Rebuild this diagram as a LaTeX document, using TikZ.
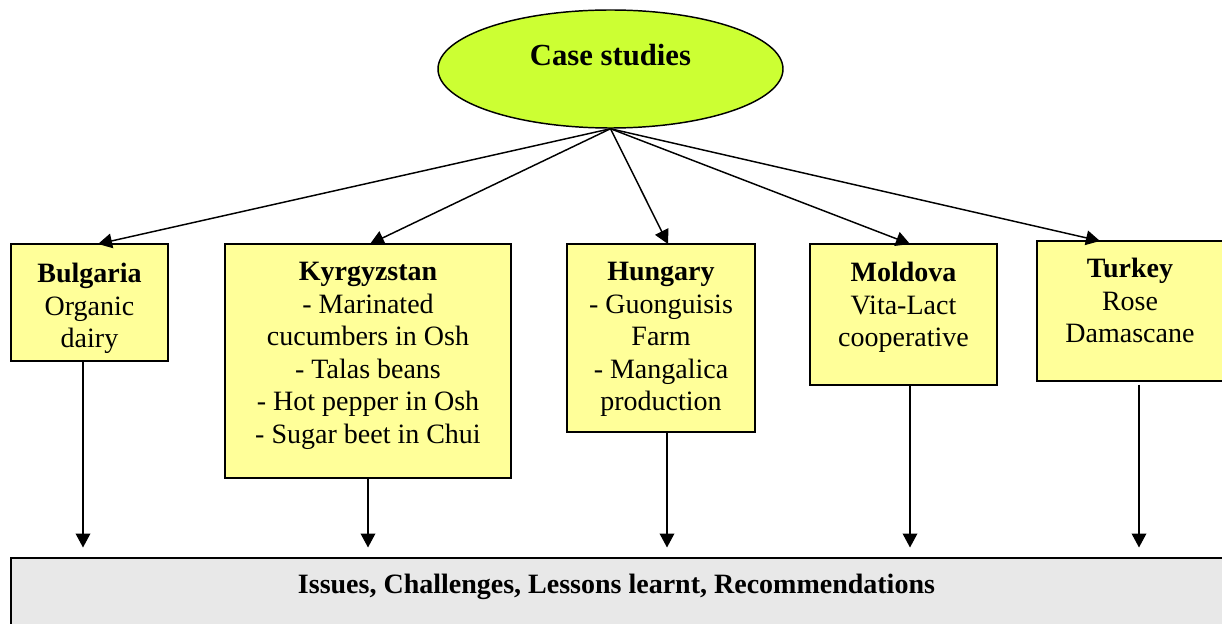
\documentclass[tikz,border=0pt]{standalone}
\usepackage{fontspec}
\setmainfont{Liberation Serif}
\usetikzlibrary{arrows.meta,shapes.geometric}
\definecolor{boxyellow}{HTML}{FFFF99}
\definecolor{ellgreen}{HTML}{CCFF33}
\definecolor{botgray}{HTML}{E8E8E8}
\begin{document}
\begin{tikzpicture}[x=0.75pt,y=-0.75pt,
  box/.style={draw=black, line width=1.5pt, fill=boxyellow, rectangle, inner sep=0pt},
  txt/.style={font=\fontsize{21}{24.4}\selectfont, align=center, inner sep=0pt, anchor=north},
  arr/.style={line width=1.1pt, -{Triangle[length=10.5pt,width=11pt]}}]
\useasboundingbox (0,0) rectangle (1222,624);
% top ellipse
\node[draw=black, line width=1.1pt, fill=ellgreen, ellipse, inner sep=0pt,
      minimum width=258.75pt, minimum height=88.5pt] (cs) at (610.5,69) {};
\node[txt, font=\fontsize{23}{27}\selectfont\bfseries] (cst) at (610.5,43.5) {Case studies};
% boxes
\node[box, minimum width=117.75pt, minimum height=87.75pt] (bul) at (89.5,302.5) {};
\node[txt] (bult) at (89.5,263) {\textbf{Bulgaria}\\Organic\\dairy};
\node[box, minimum width=214.5pt, minimum height=175.5pt] (kyr) at (368,361) {};
\node[txt] (kyrt) at (368,262) {\textbf{Kyrgyzstan}\\- Marinated\\cucumbers in Osh\\- Talas beans\\- Hot pepper in Osh\\- Sugar beet in Chui};
\node[box, minimum width=141pt, minimum height=141pt] (hun) at (661,338) {};
\node[txt] (hunt) at (661,262) {\textbf{Hungary}\\- Guonguisis\\Farm\\- Mangalica\\production};
\node[box, minimum width=140.25pt, minimum height=105.75pt] (mol) at (903.5,314.5) {};
\node[txt] (molt) at (903.5,262) {\textbf{Moldova}\\Vita-Lact\\cooperative};
\node[box, minimum width=140.25pt, minimum height=105pt] (tur) at (1130.5,311) {};
\node[txt] (turt) at (1130,258) {\textbf{Turkey}\\Rose\\Damascane};
% bottom box
\node[box, fill=botgray, minimum width=915.75pt, minimum height=61.5pt] (bot) at (621.5,599) {};
\node[font=\fontsize{21}{24}\selectfont\bfseries, anchor=base, inner sep=0pt] (bott) at (616.5,593)
  {Issues, Challenges, Lessons learnt, Recommendations};
% arrow end points
\coordinate (bulin) at (98,244);
\coordinate (kyrin) at (370,244);
\coordinate (hunin) at (668,244);
\coordinate (molin) at (910,244);
\coordinate (turin) at (1100,241);
\coordinate (bulend) at (83,547.5);
\coordinate (kyrend) at (368,547.5);
\coordinate (hunend) at (667,547.5);
\coordinate (molend) at (910,547.5);
\coordinate (turend) at (1139,547.5);
% arrows from ellipse
\draw[arr] (cs.south) -- (bulin);
\draw[arr] (cs.south) -- (kyrin);
\draw[arr] (cs.south) -- (hunin);
\draw[arr] (cs.south) -- (molin);
\draw[arr] (cs.south) -- (turin);
% arrows down
\draw[arr] (bul.south -| bulend) -- (bulend);
\draw[arr] (kyr.south -| kyrend) -- (kyrend);
\draw[arr] (hun.south -| hunend) -- (hunend);
\draw[arr] (mol.south -| molend) -- (molend);
\draw[arr] ([yshift=-2pt]tur.south -| turend) -- (turend);
\end{tikzpicture}
\end{document}
